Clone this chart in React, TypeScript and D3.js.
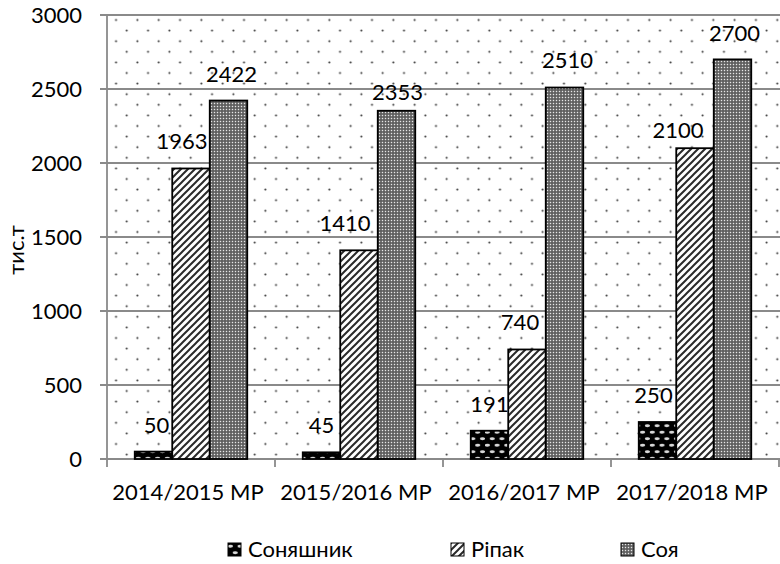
import React from "react";
import * as d3 from "d3";

const categories = ["2014/2015 МР", "2015/2016 МР", "2016/2017 МР", "2017/2018 МР"];
const seriesNames = ["Соняшник", "Ріпак", "Соя"];
const sunflower = [50, 45, 191, 250];
const rapeseed = [1963, 1410, 740, 2100];
const soy = [2422, 2353, 2510, 2700];
const yTicks = [0, 500, 1000, 1500, 2000, 2500, 3000];
const yTitle = "тис.т";

const seriesValues = [sunflower, rapeseed, soy];
const patternIds = ["pSun", "pRap", "pSoy"];

// label nudges (style), [series][category] as [dx, dy]
const labelNudge: [number, number][][] = [
  [[3, 0], [0, 0], [0, 0], [-4, 0]],
  [[-9, 0], [-14, 0], [-7, 0], [-17, 0]],
  [[3, 0], [1, 8], [3, -1], [2, 1]],
];
const rapNudgeY = [0, 0, 0, 9];

const W = 780;
const H = 564;
const M = { left: 107, right: 779, top: 15, bottom: 459 };
const FONT = "Lato, 'Open Sans', sans-serif";

export default function App() {
  const x0 = d3.scaleBand<string>().domain(categories).range([M.left, M.right]).paddingInner(0).paddingOuter(0);
  const x1 = d3.scaleBand<string>().domain(seriesNames).range([0, x0.bandwidth()]).paddingInner(0).paddingOuter(0.74);
  const y = d3.scaleLinear().domain([0, 3000]).range([M.bottom, M.top]);
  const gridColor = "#8a8a8a";

  const legendX = [228, 451, 621];

  return (
    <svg width={W} height={H} style={{ position: "absolute", left: 0, top: 0, background: "#fff" }} fontFamily={FONT}>
      <defs>
        <pattern id="bgDots" patternUnits="userSpaceOnUse" x={4.07} y={14.7} width={21.33} height={21.2}>
          <circle cx={5.33} cy={5.3} r={1.05} fill="#333" />
          <circle cx={16} cy={15.9} r={1.05} fill="#333" />
        </pattern>
        <pattern id="pSun" patternUnits="userSpaceOnUse" width={9.7} height={13}>
          <rect width={9.7} height={13} fill="#000" />
          <ellipse cx={2.4} cy={3.25} rx={2.6} ry={1.4} fill="#d8d8d8" />
          <ellipse cx={7.25} cy={9.75} rx={2.6} ry={1.4} fill="#d8d8d8" />
        </pattern>
        <pattern id="pRap" patternUnits="userSpaceOnUse" width={7} height={7}>
          <rect width={7} height={7} fill="#fff" />
          <path d="M-1,1 L1,-1 M0,7 L7,0 M6,8 L8,6" stroke="#2a2a2a" strokeWidth={2} />
        </pattern>
        <pattern id="pSoy" patternUnits="userSpaceOnUse" width={3} height={3}>
          <rect width={3} height={3} fill="#5a5a5a" />
          <rect x={0.8} y={0.8} width={1.4} height={1.4} fill="#e6e6e6" />
        </pattern>
      </defs>

      {/* plot background dots */}
      <rect x={M.left} y={M.top} width={M.right - M.left + 1} height={M.bottom - M.top} fill="url(#bgDots)" />

      {/* gridlines */}
      {yTicks.map((t) => (
        <line key={t} x1={M.left - 7} x2={W} y1={y(t)} y2={y(t)} stroke={gridColor} strokeWidth={1.8} />
      ))}
      {/* y axis */}
      <line x1={M.left} x2={M.left} y1={M.top} y2={M.bottom} stroke={gridColor} strokeWidth={1.8} />
      {/* x ticks */}
      {categories.map((c, i) => (
        <line key={c} x1={x0(c)!} x2={x0(c)!} y1={M.bottom} y2={M.bottom + 8} stroke={gridColor} strokeWidth={1.8} />
      ))}
      <line x1={M.right} x2={M.right} y1={M.bottom} y2={M.bottom + 8} stroke={gridColor} strokeWidth={1.8} />

      {/* y tick labels */}
      {yTicks.map((t) => (
        <text key={t} x={82} y={y(t)} dy="0.36em" textAnchor="end" fontSize={22} fill="#000">
          {t}
        </text>
      ))}
      <text transform={`translate(24,250) rotate(-90)`} textAnchor="middle" fontSize={22} fill="#000">
        {yTitle}
      </text>

      {/* bars */}
      {categories.map((c, ci) =>
        seriesNames.map((s, si) => {
          const v = seriesValues[si][ci];
          const bx = x0(c)! + x1(s)!;
          return (
            <rect
              key={c + s}
              x={bx}
              y={y(v)}
              width={x1.bandwidth()}
              height={M.bottom - y(v)}
              fill={`url(#${patternIds[si]})`}
              stroke="#000"
              strokeWidth={1.8}
            />
          );
        })
      )}

      {/* data labels */}
      {categories.map((c, ci) =>
        seriesNames.map((s, si) => {
          const v = seriesValues[si][ci];
          const cx = x0(c)! + x1(s)! + x1.bandwidth() / 2;
          const [dx, dy] = labelNudge[si][ci];
          const extra = si === 1 ? rapNudgeY[ci] : 0;
          return (
            <text key={"l" + c + s} x={cx + dx} y={y(v) - 19 + dy + extra} textAnchor="middle" fontSize={22} fill="#000">
              {v}
            </text>
          );
        })
      )}

      {/* category labels */}
      {categories.map((c) => (
        <text key={"c" + c} x={x0(c)! + x0.bandwidth() / 2 - 3} y={500} textAnchor="middle" fontSize={22} fill="#000">
          {c}
        </text>
      ))}

      {/* legend */}
      {seriesNames.map((s, si) => (
        <g key={"lg" + s} transform={`translate(${legendX[si]},543)`}>
          <rect x={0} y={0} width={13} height={13} fill={`url(#${patternIds[si]})`} stroke="#000" strokeWidth={1} />
          <text x={20} y={14} fontSize={22} fill="#000">
            {s}
          </text>
        </g>
      ))}
    </svg>
  );
}
